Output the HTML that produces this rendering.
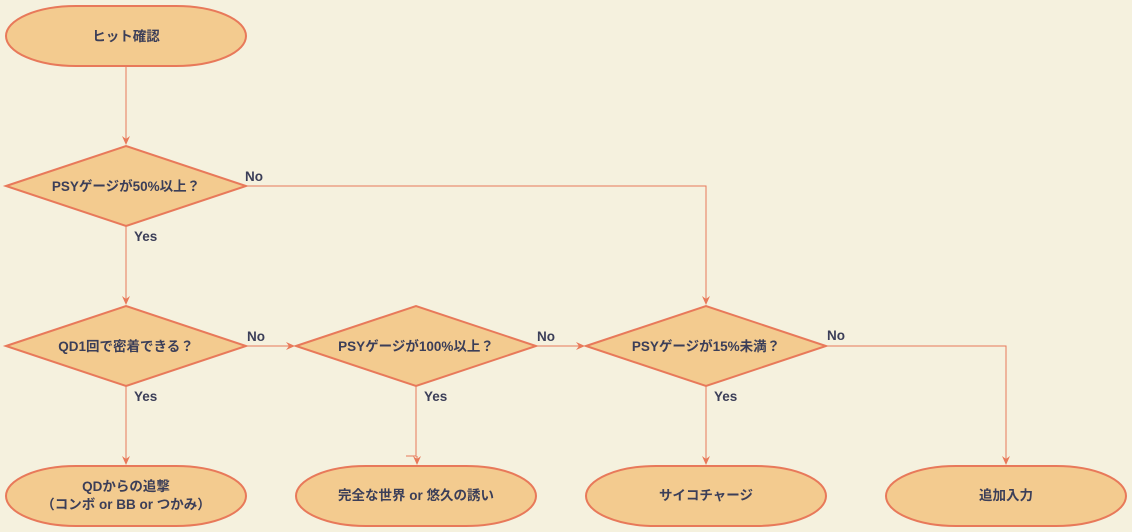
<!DOCTYPE html>
<html><head><meta charset="utf-8"><style>
html,body{margin:0;padding:0;background:#f5f1de;}
svg{display:block}
text{font-family:"Liberation Sans","Noto Sans CJK JP",sans-serif;font-size:13.5px;font-weight:bold;fill:#3b3e58;}
</style></head><body>
<svg width="1132" height="532" viewBox="0 0 1132 532" xmlns="http://www.w3.org/2000/svg">
<defs><marker id="a" markerWidth="10" markerHeight="10" refX="8" refY="5" orient="auto" markerUnits="userSpaceOnUse"><path d="M0,1 L9,5 L0,9 L3,5 z" fill="#e8795a"/></marker></defs>
<rect width="1132" height="532" fill="#f5f1de"/>
<g fill="none" stroke="#e8795a" stroke-width="1">
<path d="M126,66 V144" marker-end="url(#a)"/>
<path d="M126,226 V304" marker-end="url(#a)"/>
<path d="M246,186 H706 V304" marker-end="url(#a)"/>
<path d="M246,346 H294" marker-end="url(#a)"/>
<path d="M536,346 H584" marker-end="url(#a)"/>
<path d="M826,346 H1006 V464" marker-end="url(#a)"/>
<path d="M126,386 V464" marker-end="url(#a)"/>
<path d="M416,386 V456 H406 M417,456 V464" marker-end="url(#a)"/>
<path d="M706,386 V464" marker-end="url(#a)"/>
</g>
<g fill="#f3cb8f" stroke="#e8795a" stroke-width="2">
<rect x="6" y="6" width="240" height="60" rx="70" ry="30"/>
<polygon points="6,186 126,146 246,186 126,226"/>
<polygon points="6,346 126,306 246,346 126,386"/>
<polygon points="296,346 416,306 536,346 416,386"/>
<polygon points="586,346 706,306 826,346 706,386"/>
<rect x="6" y="466" width="240" height="60" rx="70" ry="30"/>
<rect x="296" y="466" width="240" height="60" rx="70" ry="30"/>
<rect x="586" y="466" width="240" height="60" rx="70" ry="30"/>
<rect x="886" y="466" width="240" height="60" rx="70" ry="30"/>
</g>
<g text-anchor="middle">
<text x="126" y="41">ヒット確認</text>
<text x="126" y="191">PSYゲージが50%以上？</text>
<text x="126" y="351">QD1回で密着できる？</text>
<text x="416" y="351">PSYゲージが100%以上？</text>
<text x="706" y="351">PSYゲージが15%未満？</text>
<text x="126" y="491">QDからの追撃</text>
<text x="126" y="509">（コンボ or BB or つかみ）</text>
<text x="416" y="500">完全な世界 or 悠久の誘い</text>
<text x="706" y="500">サイコチャージ</text>
<text x="1006" y="500">追加入力</text>
</g>
<text x="245" y="181">No</text>
<text x="134" y="241">Yes</text>
<text x="247" y="341">No</text>
<text x="134" y="401">Yes</text>
<text x="537" y="341">No</text>
<text x="424" y="401">Yes</text>
<text x="827" y="340">No</text>
<text x="714" y="401">Yes</text>
</svg>
</body></html>
